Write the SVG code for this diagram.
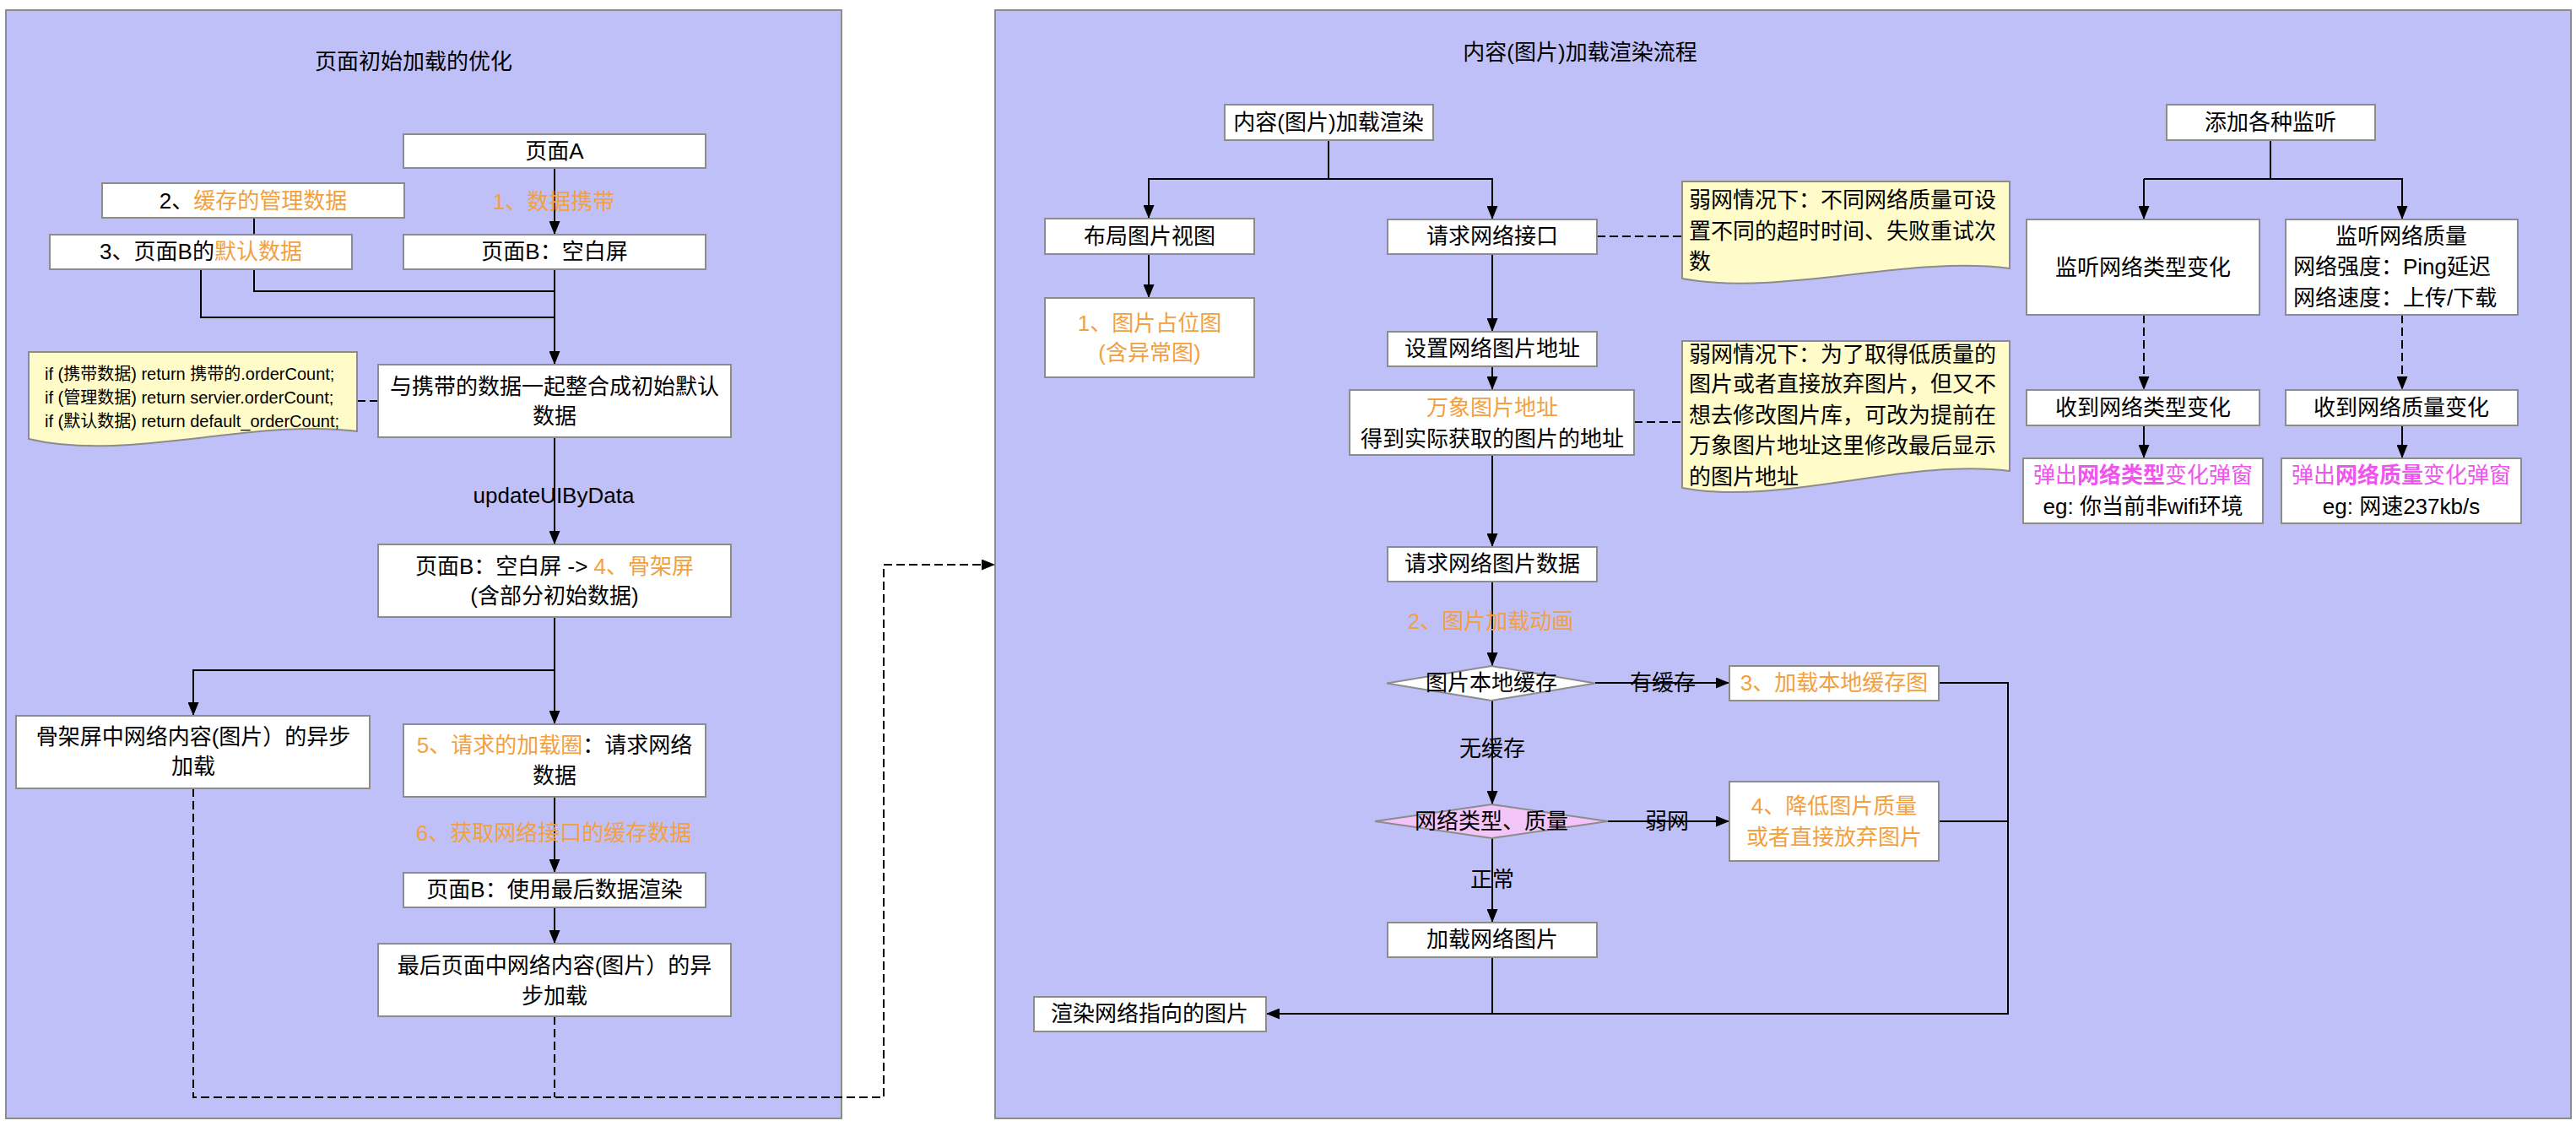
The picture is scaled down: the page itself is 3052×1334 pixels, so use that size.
<svg xmlns="http://www.w3.org/2000/svg" width="3052" height="1334" viewBox="0 0 3052 1334">
<defs>
<marker id="arr" markerUnits="userSpaceOnUse" markerWidth="16" markerHeight="13" refX="16" refY="6.5" orient="auto">
<path d="M0,0 L16,6.5 L0,13 Z" fill="#000"/>
</marker>
<style>
text{font-family:"Liberation Sans","Noto Sans CJK SC",sans-serif;font-size:26px;fill:#000;dominant-baseline:central}
.c{text-anchor:middle}
.o{fill:#F3A03F}
.m{fill:#EE55EE}
.b{font-weight:bold}
.panel{fill:#C0C0F8;stroke:#8C8C8C;stroke-width:2}
.box{fill:#fff;stroke:#8C8C8C;stroke-width:2}
.note{fill:#FFFCCA;stroke:#8C8C8C;stroke-width:2}
.e{fill:none;stroke:#000;stroke-width:2}
.d{fill:none;stroke:#000;stroke-width:2;stroke-dasharray:10,5}
.sm{font-size:20px}
</style>
</defs>
<rect width="3052" height="1334" fill="#fff"/>
<g id="panel-left"><rect class="panel" x="7" y="12" width="990" height="1313"/><text class="c" x="490" y="73">页面初始加载的优化</text></g>
<g id="panel-right"><rect class="panel" x="1179" y="12" width="1867" height="1313"/><text class="c" x="1872" y="62">内容(图片)加载渲染流程</text></g>

<g id="connectors">
<line class="e" x1="657" y1="199" x2="657" y2="278" marker-end="url(#arr)"/>
<polyline class="e" points="301,258 301,345 657,345"/>
<polyline class="e" points="238,319 238,376 657,376"/>
<line class="e" x1="657" y1="319" x2="657" y2="432" marker-end="url(#arr)"/>
<line class="d" x1="423" y1="475" x2="448" y2="475"/>
<line class="e" x1="657" y1="518" x2="657" y2="645" marker-end="url(#arr)"/>
<line class="e" x1="657" y1="731" x2="657" y2="858" marker-end="url(#arr)"/>
<polyline class="e" points="657,794 229,794 229,848" marker-end="url(#arr)"/>
<line class="e" x1="657" y1="944" x2="657" y2="1034" marker-end="url(#arr)"/>
<line class="e" x1="657" y1="1075" x2="657" y2="1118" marker-end="url(#arr)"/>
<polyline class="d" points="229,934 229,1300 1047,1300 1047,669 1179,669" marker-end="url(#arr)"/>
<line class="d" x1="657" y1="1204" x2="657" y2="1300"/>

<polyline class="e" points="1574,166 1574,212"/>
<polyline class="e" points="1361,259 1361,212 1768,212 1768,260" marker-end="url(#arr)"/>
<line class="e" x1="1361" y1="212" x2="1361" y2="259" marker-end="url(#arr)"/>
<line class="d" x1="1892" y1="280" x2="1993" y2="280"/>
<line class="e" x1="1361" y1="301" x2="1361" y2="353" marker-end="url(#arr)"/>
<line class="e" x1="1768" y1="301" x2="1768" y2="393" marker-end="url(#arr)"/>
<line class="e" x1="1768" y1="434" x2="1768" y2="462" marker-end="url(#arr)"/>
<line class="d" x1="1936" y1="500" x2="1993" y2="500"/>
<line class="e" x1="1768" y1="539" x2="1768" y2="648" marker-end="url(#arr)"/>
<line class="e" x1="1768" y1="689" x2="1768" y2="789" marker-end="url(#arr)"/>
<line class="e" x1="1890" y1="809" x2="2049" y2="809" marker-end="url(#arr)"/>
<line class="e" x1="1768" y1="830" x2="1768" y2="953" marker-end="url(#arr)"/>
<line class="e" x1="1905" y1="973" x2="2049" y2="973" marker-end="url(#arr)"/>
<line class="e" x1="1768" y1="993" x2="1768" y2="1093" marker-end="url(#arr)"/>
<polyline class="e" points="2297,809 2379,809 2379,1201 1500,1201" marker-end="url(#arr)"/>
<line class="e" x1="2297" y1="973" x2="2379" y2="973"/>
<line class="e" x1="1768" y1="1134" x2="1768" y2="1201"/>

<polyline class="e" points="2690,166 2690,212"/>
<polyline class="e" points="2540,212 2846,212 2846,260" marker-end="url(#arr)"/>
<line class="e" x1="2540" y1="212" x2="2540" y2="260" marker-end="url(#arr)"/>
<line class="d" x1="2540" y1="373" x2="2540" y2="462" marker-end="url(#arr)"/>
<line class="d" x1="2846" y1="373" x2="2846" y2="462" marker-end="url(#arr)"/>
<line class="e" x1="2540" y1="504" x2="2540" y2="543" marker-end="url(#arr)"/>
<line class="e" x1="2846" y1="504" x2="2846" y2="543" marker-end="url(#arr)"/>
</g>

<g id="edge-labels">
<text class="c o" x="656" y="239">1、数据携带</text>
<text class="c" x="656" y="587">updateUIByData</text>
<text class="c o" x="656" y="987">6、获取网络接口的缓存数据</text>
<text class="c o" x="1766" y="736">2、图片加载动画</text>
<text class="c" x="1970" y="809">有缓存</text>
<text class="c" x="1768" y="887">无缓存</text>
<text class="c" x="1975" y="973">弱网</text>
<text class="c" x="1768" y="1042">正常</text>
</g>

<g id="n-pageA"><rect class="box" x="478" y="159" width="358" height="40"/><text class="c" x="657" y="179">页面A</text></g>
<g id="n-cache"><rect class="box" x="121" y="217" width="358" height="41"/><text class="c" x="300" y="238">2、<tspan class="o">缓存的管理数据</tspan></text></g>
<g id="n-default"><rect class="box" x="59" y="278" width="358" height="41"/><text class="c" x="238" y="298">3、页面B的<tspan class="o">默认数据</tspan></text></g>
<g id="n-pageB"><rect class="box" x="478" y="278" width="358" height="41"/><text class="c" x="657" y="298">页面B：空白屏</text></g>
<g id="n-note-left"><path class="note" d="M34,417 H423 V511 C 300,495 150,548 34,520 Z"/>
<text class="sm" x="53" y="443">if (携带数据) return 携带的.orderCount;</text>
<text class="sm" x="53" y="471">if (管理数据) return servier.orderCount;</text>
<text class="sm" x="53" y="499">if (默认数据) return default_orderCount;</text></g>
<g id="n-merge"><rect class="box" x="448" y="432" width="418" height="86"/><text class="c" x="657" y="458">与携带的数据一起整合成初始默认</text><text class="c" x="657" y="493">数据</text></g>
<g id="n-skeleton"><rect class="box" x="448" y="645" width="418" height="86"/><text class="c" x="657" y="671">页面B：空白屏 -&gt; <tspan class="o">4、骨架屏</tspan></text><text class="c" x="657" y="706">(含部分初始数据)</text></g>
<g id="n-async1"><rect class="box" x="19" y="848" width="419" height="86"/><text class="c" x="229" y="873">骨架屏中网络内容(图片）的异步</text><text class="c" x="229" y="908">加载</text></g>
<g id="n-request"><rect class="box" x="478" y="858" width="358" height="86"/><text class="c" x="657" y="883"><tspan class="o">5、请求的加载圈</tspan>：请求网络</text><text class="c" x="657" y="919">数据</text></g>
<g id="n-render"><rect class="box" x="478" y="1034" width="358" height="41"/><text class="c" x="657" y="1054">页面B：使用最后数据渲染</text></g>
<g id="n-async2"><rect class="box" x="448" y="1118" width="418" height="86"/><text class="c" x="657" y="1144">最后页面中网络内容(图片）的异</text><text class="c" x="657" y="1180">步加载</text></g>

<g id="n-content"><rect class="box" x="1451" y="124" width="247" height="42"/><text class="c" x="1574" y="145">内容(图片)加载渲染</text></g>
<g id="n-layout"><rect class="box" x="1238" y="259" width="248" height="42"/><text class="c" x="1362" y="280">布局图片视图</text></g>
<g id="n-api"><rect class="box" x="1644" y="260" width="248" height="41"/><text class="c" x="1768" y="280">请求网络接口</text></g>
<g id="n-note1"><path class="note" d="M1993,215 H2381 V318 C 2260,302 2110,352 1993,330 Z"/>
<text x="2001" y="237">弱网情况下：不同网络质量可设</text><text x="2001" y="274">置不同的超时时间、失败重试次</text><text x="2001" y="310">数</text></g>
<g id="n-placeholder"><rect class="box" x="1238" y="353" width="248" height="94"/><text class="c o" x="1362" y="383">1、图片占位图</text><text class="c o" x="1362" y="418">(含异常图)</text></g>
<g id="n-seturl"><rect class="box" x="1644" y="393" width="248" height="41"/><text class="c" x="1768" y="413">设置网络图片地址</text></g>
<g id="n-wanxiang"><rect class="box" x="1599" y="462" width="337" height="77"/><text class="c o" x="1768" y="483">万象图片地址</text><text class="c" x="1768" y="520">得到实际获取的图片的地址</text></g>
<g id="n-note2"><path class="note" d="M1993,404 H2381 V558 C 2260,542 2110,600 1993,578 Z"/>
<text x="2001" y="420">弱网情况下：为了取得低质量的</text><text x="2001" y="455">图片或者直接放弃图片，但又不</text><text x="2001" y="492">想去修改图片库，可改为提前在</text><text x="2001" y="528">万象图片地址这里修改最后显示</text><text x="2001" y="565">的图片地址</text></g>
<g id="n-reqdata"><rect class="box" x="1644" y="648" width="248" height="41"/><text class="c" x="1768" y="668">请求网络图片数据</text></g>
<g id="n-localcache"><path class="box" d="M1643,809.5 L1767,789 L1890,809.5 L1767,830 Z"/><text class="c" x="1767" y="809">图片本地缓存</text></g>
<g id="n-loadlocal"><rect class="box" x="2049" y="789" width="248" height="41"/><text class="c o" x="2173" y="809">3、加载本地缓存图</text></g>
<g id="n-nettype"><path d="M1629,973 L1767,953 L1905,973 L1767,993 Z" fill="#F2C4F7" stroke="#8C8C8C" stroke-width="2"/><text class="c" x="1767" y="973">网络类型、质量</text></g>
<g id="n-lower"><rect class="box" x="2049" y="926" width="248" height="94"/><text class="c o" x="2173" y="955">4、降低图片质量</text><text class="c o" x="2173" y="992">或者直接放弃图片</text></g>
<g id="n-loadnet"><rect class="box" x="1644" y="1093" width="248" height="41"/><text class="c" x="1768" y="1113">加载网络图片</text></g>
<g id="n-show"><rect class="box" x="1225" y="1181" width="275" height="41"/><text class="c" x="1362" y="1201">渲染网络指向的图片</text></g>

<g id="n-listen"><rect class="box" x="2567" y="124" width="247" height="42"/><text class="c" x="2690" y="145">添加各种监听</text></g>
<g id="n-listen-type"><rect class="box" x="2401" y="260" width="276" height="113"/><text class="c" x="2539" y="317">监听网络类型变化</text></g>
<g id="n-listen-quality"><rect class="box" x="2708" y="260" width="275" height="113"/><text class="c" x="2845" y="280">监听网络质量</text><text x="2717" y="316">网络强度：Ping延迟</text><text x="2717" y="353">网络速度：上传/下载</text></g>
<g id="n-recv-type"><rect class="box" x="2401" y="462" width="276" height="42"/><text class="c" x="2539" y="483">收到网络类型变化</text></g>
<g id="n-recv-quality"><rect class="box" x="2708" y="462" width="275" height="42"/><text class="c" x="2845" y="483">收到网络质量变化</text></g>
<g id="n-pop-type"><rect class="box" x="2397" y="543" width="284" height="77"/><text class="c m" x="2539" y="563">弹出<tspan class="b">网络类型</tspan>变化弹窗</text><text class="c" x="2539" y="600">eg: 你当前非wifi环境</text></g>
<g id="n-pop-quality"><rect class="box" x="2703" y="543" width="284" height="77"/><text class="c m" x="2845" y="563">弹出<tspan class="b">网络质量</tspan>变化弹窗</text><text class="c" x="2845" y="600">eg: 网速237kb/s</text></g>
</svg>
